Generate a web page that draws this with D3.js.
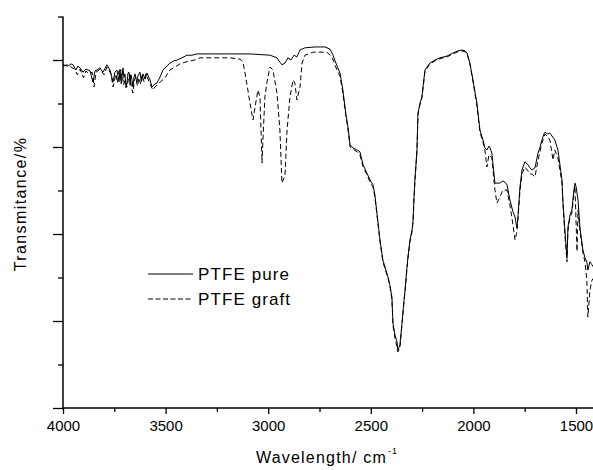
<!DOCTYPE html>
<html><head><meta charset="utf-8">
<script src="https://cdn.jsdelivr.net/npm/d3@7/dist/d3.min.js"></script>
<style>
body{margin:0;background:#fff;}
svg{display:block;}
text{font-family:"Liberation Sans",Arial,sans-serif;fill:#000;}
</style></head>
<body>
<svg id="c" width="593" height="470"></svg>
<script>
// ---- data (wavenumber cm-1, transmittance %) ----
const seriesNames = ["PTFE pure", "PTFE graft"];
const xMajorTicks = [4000, 3500, 3000, 2500, 2000, 1500];
const xMinorTicks = [3750, 3250, 2750, 2250, 1750];
const yMajorTicks = [0, 20, 40, 60, 80];
const yMinorTicks = [10, 30, 50, 70, 90];

const pureWn = [4000,3976,3961,3951,3937,3927,3917,3903,3888,3868,3854,3844,3834,3820,3805,3786,3771,3756,3747,3737,3727,3722,3716,3708,3703,3698,3693,3688,3683,3678,3673,3669,3664,3659,3654,3649,3640,3635,3625,3618,3610,3600,3591,3576,3566,3552,3542,3527,3513,3493,3479,3459,3444,3420,3396,3371,3347,3284,3186,3089,2991,2957,2943,2933,2918,2904,2889,2874,2860,2845,2821,2772,2723,2699,2684,2670,2650,2636,2621,2611,2601,2587,2567,2553,2538,2519,2499,2489,2480,2470,2455,2441,2426,2416,2407,2397,2392,2382,2372,2368,2358,2348,2338,2333,2324,2319,2309,2299,2294,2290,2285,2275,2270,2260,2251,2236,2212,2187,2163,2129,2100,2075,2056,2041,2031,2017,2002,1983,1968,1953,1944,1934,1924,1919,1910,1905,1895,1871,1856,1846,1836,1822,1807,1797,1788,1783,1773,1763,1749,1734,1724,1715,1700,1685,1676,1666,1656,1651,1637,1627,1603,1588,1568,1564,1554,1544,1539,1529,1520,1510,1505,1500,1490,1481,1466,1456,1447,1442,1432,1422,1412];
const pureT = [78.9,78.6,79.1,78.9,77.7,78.6,78.2,77.2,77.9,77.5,74.9,77.5,77.7,78.2,77.2,78.9,77.7,74.9,77.2,77.7,75.0,77.9,74.5,78.2,76.0,76.8,73.6,74.9,77.0,77.2,74.2,76.6,75.5,73.8,76.0,76.8,74.8,76.3,77.2,75.0,76.8,75.6,77.0,75.4,73.8,74.5,74.7,76.1,77.7,78.6,79.3,79.8,80.0,80.5,81.1,81.1,81.4,81.4,81.4,81.4,81.1,80.5,79.5,78.9,79.3,80.5,80.0,81.1,80.7,82.3,82.8,83.0,83.0,82.5,81.1,79.3,77.0,73.1,67.4,64.6,60.5,59.8,59.3,58.9,56.0,54.0,52.0,51.3,49.0,44.8,38.6,34.0,31.7,30.1,28.3,25.5,19.5,16.8,15.2,13.3,14.5,19.5,24.8,27.1,32.2,34.7,38.6,40.9,43.2,47.8,52.4,59.3,67.8,70.1,71.5,77.7,79.3,80.0,80.5,80.9,81.6,82.1,82.3,82.1,81.6,79.3,75.4,70.1,63.9,61.6,59.8,59.3,60.2,59.8,58.6,56.3,51.7,51.7,52.2,51.9,51.3,47.8,45.1,43.9,41.4,43.9,50.8,54.7,56.6,55.9,55.2,54.7,55.2,58.6,59.8,61.6,63.0,63.4,63.0,63.2,61.6,59.3,52.4,47.8,40.9,34.5,41.6,44.4,45.5,50.1,51.7,51.0,47.8,41.6,36.3,34.5,33.6,31.7,33.6,32.9,32.2];

const graftWn = [4000,3980,3961,3944,3930,3917,3900,3888,3873,3858,3849,3839,3820,3800,3786,3766,3756,3742,3735,3727,3720,3712,3705,3698,3688,3680,3673,3666,3659,3652,3645,3637,3630,3622,3615,3605,3596,3576,3562,3552,3537,3527,3503,3479,3454,3430,3405,3381,3357,3332,3186,3137,3123,3113,3099,3089,3074,3064,3050,3040,3030,3025,3016,3006,2991,2977,2957,2943,2933,2923,2918,2908,2894,2879,2870,2860,2845,2835,2821,2782,2714,2689,2665,2650,2636,2621,2611,2601,2587,2567,2553,2538,2519,2499,2489,2480,2470,2455,2441,2426,2416,2407,2397,2392,2382,2372,2368,2358,2348,2338,2333,2324,2319,2309,2299,2294,2290,2285,2275,2270,2260,2251,2236,2212,2187,2163,2129,2100,2075,2056,2041,2031,2017,2002,1983,1968,1953,1944,1934,1924,1910,1895,1885,1871,1856,1836,1822,1807,1797,1788,1783,1773,1763,1749,1734,1724,1715,1700,1685,1666,1651,1637,1627,1612,1603,1588,1568,1564,1554,1544,1539,1529,1520,1510,1505,1495,1490,1481,1466,1456,1447,1442,1432,1422,1412];
const graftT = [78.6,78.9,78.4,77.9,76.6,77.9,75.9,77.5,76.8,77.2,73.8,77.2,77.9,76.6,78.4,76.8,73.8,76.8,74.8,77.5,75.2,77.7,74.2,75.4,73.8,76.0,76.6,73.5,72.4,75.5,76.1,74.0,75.9,74.5,76.6,75.0,76.8,74.5,73.1,73.8,74.5,74.9,75.9,77.7,78.4,79.1,79.5,79.8,80.0,80.5,80.5,80.2,79.5,77.0,73.1,70.1,66.2,69.2,73.1,71.5,56.3,62.3,71.5,74.9,78.4,77.7,72.4,63.9,51.7,52.9,53.6,63.9,71.5,75.4,74.7,70.8,73.8,79.3,81.1,81.8,81.8,80.7,77.7,76.3,72.4,67.0,64.0,60.0,59.5,58.9,58.2,55.5,53.6,51.5,50.8,48.5,44.4,38.2,33.6,31.3,29.8,28.0,25.0,19.0,16.0,14.0,12.9,13.8,19.0,24.4,26.8,31.8,34.3,38.2,40.5,42.8,47.4,52.0,59.0,67.4,69.8,71.2,77.4,79.1,79.8,80.3,80.7,81.4,81.9,82.1,81.9,81.4,79.1,75.0,69.6,63.4,61.1,59.3,55.4,58.2,57.5,50.1,47.1,48.5,50.1,50.1,46.7,42.1,38.6,40.5,43.2,49.9,53.8,55.4,54.5,53.8,53.8,53.1,57.0,60.9,63.0,62.3,61.6,57.0,59.3,57.5,51.7,47.1,39.8,33.6,40.9,43.9,44.8,49.4,51.0,36.0,45.5,40.9,35.6,33.6,29.4,20.9,27.1,29.4,30.0];

// ---- drawing ----
const svg = d3.select("#c");
const x = d3.scaleLinear().domain([4000, 1400]).range([63, 596.5]);
const y = d3.scaleLinear().domain([0, 90]).range([408, 16.5]);

const line = d3.line().x(d => x(d[0])).y(d => y(d[1]));
const zipPairs = (a, b) => d3.range(Math.min(a.length, b.length)).map(i => [a[i], b[i]]);
const pure = zipPairs(pureWn, pureT);
const graft = zipPairs(graftWn, graftT);

svg.append("path").attr("d", line(graft)).attr("fill", "none")
  .attr("stroke", "#000").attr("stroke-width", 1).attr("stroke-dasharray", "5,3");
svg.append("path").attr("d", line(pure)).attr("fill", "none")
  .attr("stroke", "#000").attr("stroke-width", 1);

// axes
const gx = svg.append("g").attr("transform", "translate(0,408)");
gx.call(d3.axisBottom(x).tickValues(xMajorTicks).tickSize(6).tickPadding(6).tickFormat(d3.format("d")));
const gx2 = svg.append("g").attr("transform", "translate(0,408)");
gx2.call(d3.axisBottom(x).tickValues(xMinorTicks).tickSize(4).tickFormat(""));
const gy = svg.append("g").attr("transform", "translate(63,0)");
gy.call(d3.axisLeft(y).tickValues(yMajorTicks).tickSize(10).tickFormat(""));
const gy2 = svg.append("g").attr("transform", "translate(63,0)");
gy2.call(d3.axisLeft(y).tickValues(yMinorTicks).tickSize(5).tickFormat(""));
svg.selectAll(".domain").remove();
svg.selectAll(".tick line").attr("stroke", "#000").attr("stroke-width", 1.3);
gx.selectAll(".tick text").attr("font-size", 15).attr("font-family", "Liberation Sans, Arial, sans-serif").attr("fill", "#000");

svg.append("line").attr("x1", 63).attr("x2", 596.5).attr("y1", 408).attr("y2", 408)
  .attr("stroke", "#000").attr("stroke-width", 1.5);
svg.append("line").attr("x1", 63).attr("x2", 63).attr("y1", y(90)).attr("y2", 408)
  .attr("stroke", "#000").attr("stroke-width", 1.5);

// titles
const xt = svg.append("text").attr("x", 256).attr("y", 462.7)
  .attr("font-size", 16).attr("letter-spacing", 1.2);
xt.append("tspan").text("Wavelength/ cm");
xt.append("tspan").attr("font-size", 9).attr("dy", -9).attr("dx", 1).text("-1");

svg.append("text").attr("transform", "translate(25.5,204) rotate(-90)")
  .attr("text-anchor", "middle").attr("font-size", 16).attr("letter-spacing", 1.4)
  .text("Transmitance/%");

// legend
const leg = [{name: seriesNames[0], dash: null, y: 274}, {name: seriesNames[1], dash: "5,2.5", y: 299}];
leg.forEach(l => {
  svg.append("line").attr("x1", 148).attr("x2", 193).attr("y1", l.y).attr("y2", l.y)
    .attr("stroke", "#000").attr("stroke-width", 1).attr("stroke-dasharray", l.dash);
  svg.append("text").attr("x", 198).attr("y", l.y + 5.5).attr("font-size", 17)
    .attr("letter-spacing", 1.1).text(l.name);
});
</script>
</body></html>
